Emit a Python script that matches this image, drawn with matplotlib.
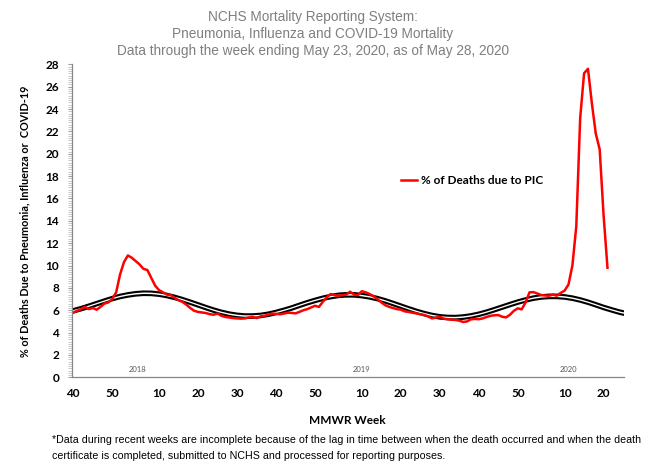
import matplotlib
matplotlib.use("Agg")
import matplotlib.pyplot as plt
from matplotlib.ticker import MultipleLocator
import numpy as np

# % of deaths due to PIC, weekly from MMWR 2017 week 40 to 2020 week 21
pic = [5.8, 5.95, 6.1, 6.3, 6.1, 6.2, 6.05, 6.3, 6.6, 6.7,
       7.0, 7.6, 9.2, 10.3, 10.9, 10.7, 10.4, 10.1, 9.7, 9.6,
       8.9, 8.2, 7.8, 7.6, 7.4, 7.35, 7.1, 6.9, 6.75, 6.5,
       6.2, 5.95, 5.85, 5.8, 5.75, 5.65, 5.6, 5.7, 5.5, 5.4,
       5.35, 5.3, 5.27, 5.25, 5.27, 5.35, 5.4, 5.3, 5.45, 5.5,
       5.6, 5.7, 5.68, 5.64, 5.7, 5.78, 5.76, 5.72, 5.85, 6.0,
       6.1, 6.25, 6.4, 6.3, 6.75, 7.15, 7.45, 7.35, 7.3, 7.35,
       7.4, 7.66, 7.4, 7.35, 7.7, 7.6, 7.45, 7.25, 7.0, 6.7,
       6.45, 6.3, 6.2, 6.1, 6.05, 5.9, 5.85, 5.78, 5.72, 5.65,
       5.57, 5.45, 5.27, 5.35, 5.42, 5.25, 5.2, 5.15, 5.13, 5.07,
       4.95, 5.0, 5.19, 5.22, 5.2, 5.27, 5.4, 5.5, 5.55, 5.57,
       5.42, 5.36, 5.6, 5.95, 6.17, 6.08, 6.7, 7.6, 7.62, 7.5,
       7.36, 7.32, 7.3, 7.4, 7.3, 7.55, 7.75, 8.3, 10.0, 13.5,
       23.2, 27.2, 27.6, 24.5, 21.8, 20.4, 14.5, 9.8]

# seasonal baseline and epidemic threshold, every second week
base_weeks = list(range(0, 141, 2)) + [141]
baseline = [5.79, 5.98, 6.20, 6.43, 6.66, 6.88, 7.07, 7.21, 7.31, 7.36,
            7.35, 7.28, 7.16, 6.99, 6.79, 6.56, 6.32, 6.08, 5.85, 5.65,
            5.49, 5.38, 5.32, 5.32, 5.37, 5.48, 5.64, 5.83, 6.04, 6.28,
            6.51, 6.72, 6.91, 7.06, 7.17, 7.22, 7.22, 7.15, 7.04, 6.88,
            6.68, 6.45, 6.21, 5.97, 5.74, 5.54, 5.37, 5.25, 5.19, 5.18,
            5.23, 5.33, 5.48, 5.67, 5.89, 6.12, 6.35, 6.57, 6.76, 6.92,
            7.03, 7.08, 7.08, 7.03, 6.92, 6.76, 6.56, 6.33, 6.09, 5.88,
            5.68, 5.60]
threshold = [6.11, 6.30, 6.52, 6.75, 6.98, 7.20, 7.39, 7.53, 7.63, 7.68,
             7.67, 7.60, 7.48, 7.31, 7.11, 6.88, 6.64, 6.40, 6.17, 5.97,
             5.81, 5.70, 5.64, 5.64, 5.69, 5.80, 5.96, 6.15, 6.36, 6.60,
             6.83, 7.04, 7.23, 7.38, 7.49, 7.54, 7.54, 7.47, 7.36, 7.20,
             7.00, 6.77, 6.53, 6.29, 6.06, 5.86, 5.69, 5.57, 5.51, 5.50,
             5.55, 5.65, 5.80, 5.99, 6.21, 6.44, 6.67, 6.89, 7.08, 7.24,
             7.35, 7.40, 7.40, 7.35, 7.24, 7.08, 6.88, 6.65, 6.41, 6.20,
             6.00, 5.92]

tick_pos = [0, 10, 22, 32, 42, 52, 62, 74, 84, 94, 104, 114, 126, 136]
tick_labels = ['40', '50', '10', '20', '30', '40', '50', '10', '20', '30', '40', '50', '10', '20']
years = ['2018', '2019', '2020']
year_pos = [16.4, 74, 127]

fig = plt.figure(figsize=(6.56, 4.73), dpi=100)
ax = fig.add_axes([0.1093, 0.2023, 0.8417, 0.6617])

ax.plot(base_weeks, threshold, color='black', lw=1.5)
ax.plot(base_weeks, baseline, color='black', lw=1.5)
ax.plot(np.arange(len(pic)), pic, color='#ff0000', lw=1.8, label='% of Deaths due to PIC')

ax.set_xlim(-0.4, 141.2)
ax.set_ylim(0, 28)
ax.yaxis.set_major_locator(MultipleLocator(2))
ax.yaxis.set_minor_locator(MultipleLocator(0.2))
ax.set_xticks(tick_pos)
ax.set_xticklabels(tick_labels)

for s in ['top', 'right']:
    ax.spines[s].set_visible(False)
for s in ['left', 'bottom']:
    ax.spines[s].set_color('#868686')
    ax.spines[s].set_linewidth(0.9)

ax.tick_params(axis='x', length=0, pad=8)
ax.tick_params(axis='y', which='major', length=3, color='#a0a0a0', pad=6)
ax.tick_params(axis='y', which='minor', length=3, color='#c0c0c0', width=0.6)
for lab in ax.get_xticklabels() + ax.get_yticklabels():
    lab.set_fontfamily('Lato')
    lab.set_fontweight('bold')
    lab.set_fontsize(8.5)

for yr, xp in zip(years, year_pos):
    ax.text(xp, 0.35, yr, ha='center', va='bottom', fontsize=5.5, color='#595959', family='Lato')

ax.set_ylabel('% of Deaths Due to Pneumonia, Influenza or  COVID-19',
              fontfamily='Lato', fontweight='bold', fontsize=7.8, labelpad=11)
ax.set_xlabel('MMWR Week', fontfamily='Lato', fontweight='bold', fontsize=8.5, labelpad=11)

leg = ax.legend(loc='center left', bbox_to_anchor=(0.585, 0.63), frameon=False,
                handlelength=1.4, handletextpad=0.3, borderpad=0,
                prop={'family': 'Lato', 'weight': 'bold', 'size': 8.5})

fig.text(0.477, 0.979, 'NCHS Mortality Reporting System:\nPneumonia, Influenza and COVID-19 Mortality\n'
         'Data through the week ending May 23, 2020, as of May 28, 2020',
         ha='center', va='top', fontsize=9.8, color='#7f7f7f', family='Liberation Sans', linespacing=1.28)

fig.text(0.079, 0.081, '*Data during recent weeks are incomplete because of the lag in time between when the death occurred and when the death\n'
         'certificate is completed, submitted to NCHS and processed for reporting purposes.',
         ha='left', va='top', fontsize=7.7, color='black', family='Liberation Sans', linespacing=1.8)

fig.savefig('out.png', dpi=100)
